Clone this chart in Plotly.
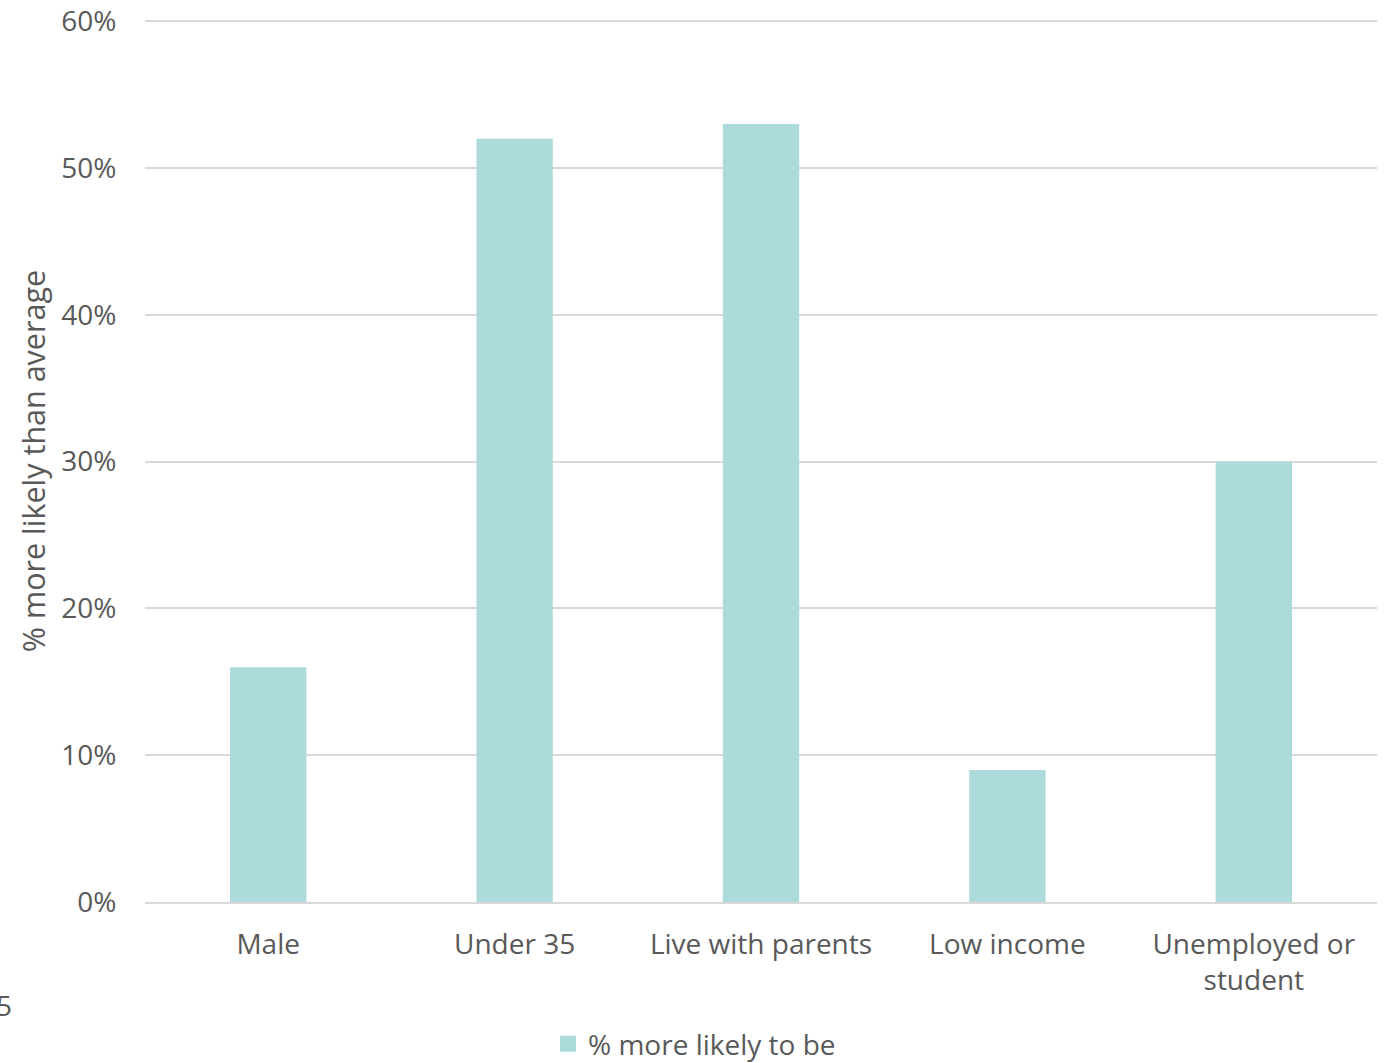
import plotly.graph_objects as go

categories = ["Male", "Under 35", "Live with parents", "Low income", "Unemployed or<br>student"]
values = [0.16, 0.52, 0.53, 0.09, 0.30]
series_name = "% more likely to be"
y_title = "% more likely than average"
tick_vals = [0, 0.1, 0.2, 0.3, 0.4, 0.5, 0.6]
tick_text = ["0%", "10%", "20%", "30%", "40%", "50%", "60%"]

font_family = "Open Sans, Noto Sans, sans-serif"
txt = "#595959"
bar_color = "#ADDBDC"

fig = go.Figure()
fig.add_trace(go.Bar(x=categories, y=values, name=series_name,
                     marker=dict(color=bar_color, line=dict(width=0)),
                     showlegend=False))
# legend proxy with a square swatch
fig.add_trace(go.Scatter(x=[None], y=[None], mode="markers", name=series_name,
                         marker=dict(symbol="square", size=18, color=bar_color),
                         showlegend=True))

fig.update_layout(
    width=1389, height=1063,
    margin=dict(l=145, r=12, t=14, b=161, autoexpand=False),
    paper_bgcolor="white", plot_bgcolor="white",
    bargap=0.69,
    font=dict(family=font_family, size=28, color=txt),
    xaxis=dict(showgrid=False, showline=True, linecolor="#D9D9D9", linewidth=2,
               ticks="outside", ticklen=16, tickcolor="rgba(0,0,0,0)",
               tickfont=dict(size=28, color=txt), automargin=False),
    yaxis=dict(range=[0, 0.605], tickvals=tick_vals, ticktext=tick_text,
               showgrid=True, gridcolor="#D9D9D9", gridwidth=2,
               zeroline=False, showline=False,
               ticks="outside", ticklen=22, tickcolor="rgba(0,0,0,0)",
               tickfont=dict(size=28, color=txt), automargin=False),
    legend=dict(orientation="h", xref="container", yref="container",
                x=0.5, xanchor="center", y=(1063 - 1044) / 1063, yanchor="middle",
                font=dict(size=28, color=txt), itemsizing="trace", itemwidth=30),
    annotations=[
        dict(text=y_title, xref="paper", yref="paper", x=(33 - 145) / 1232, xanchor="center",
             y=(902 - 461) / 881 * 0.6 / 0.605 + 0.0, yanchor="middle", textangle=-90,
             showarrow=False, font=dict(size=30.5, color=txt)),
        dict(text="5", xref="paper", yref="paper", x=-145 / 1232, xshift=4, xanchor="center",
             y=-103 / 888, yanchor="middle", showarrow=False,
             font=dict(size=28, color=txt)),
    ],
)

fig.write_html("out.html", config={"displayModeBar": False},
               post_script="document.body.style.margin='0';document.body.style.padding='0';")
